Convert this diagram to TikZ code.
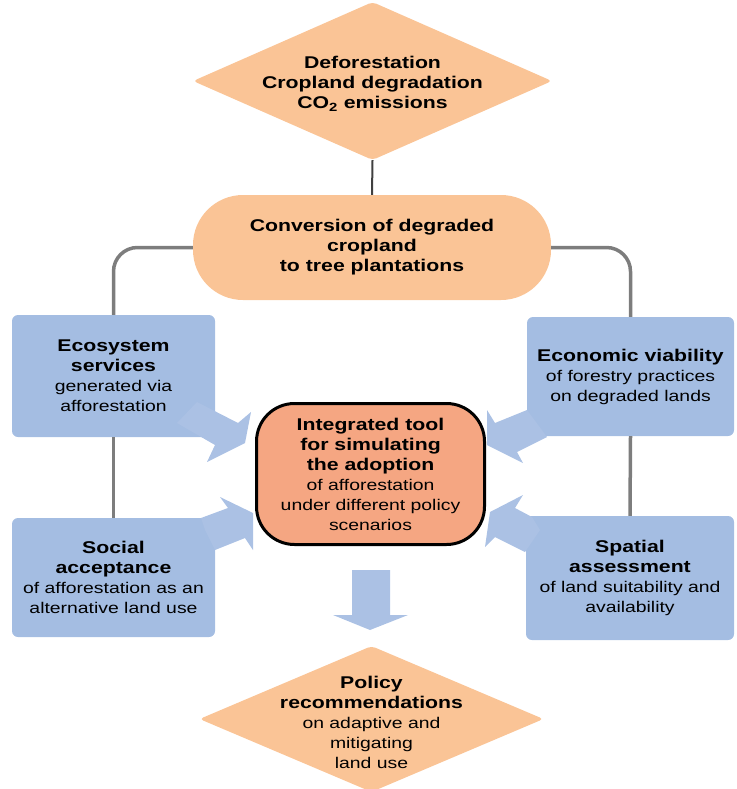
\documentclass[tikz,border=0pt]{standalone}
\usepackage{fontspec}
\setmainfont{Liberation Sans}[FakeStretch=1.25]
\usetikzlibrary{shapes.geometric}
\usepackage{color}

\definecolor{peach}{RGB}{250,196,150}
\definecolor{salmon}{RGB}{245,166,130}
\definecolor{paleblue}{RGB}{164,189,226}
\definecolor{arrowblue}{RGB}{171,193,228}
\definecolor{linegray}{RGB}{125,125,125}

% bold heading line inside a node
\newcommand{\hl}[1]{{\fontsize{17}{20}\selectfont\bfseries #1}}

\begin{document}
\begin{tikzpicture}[x=1pt,y=-1pt,
            font=\fontsize{15.5}{20}\selectfont,
            issue/.style={diamond, fill=peach, inner sep=0pt, rounded corners=4pt},
            pill/.style={rectangle, fill=peach, rounded corners=50pt,
                minimum width=358pt, minimum height=105pt, align=center},
            factor/.style={rectangle, fill=paleblue, rounded corners=6pt,
                minimum width=204pt, minimum height=121pt, align=center},
            tool/.style={rectangle, fill=salmon, draw=black, line width=3pt,
                rounded corners=38pt, minimum width=228pt, minimum height=141pt, align=center},
            txt/.style={align=center, inner sep=0pt},
            link/.style={draw=linegray, line width=3.5pt, rounded corners=24pt},
            flow/.style={fill=arrowblue},
        ]
        \useasboundingbox (0,0) rectangle (736,789);

        % problems and measure
        \node[issue, minimum width=359pt, minimum height=158pt] (causes) at (372.5,81) {};
        \node[txt] (causestext) at (372.5,84) {\hl{Deforestation}\\ \hl{Cropland degradation}\\ \hl{CO\textsubscript{2} emissions}};
        \node[pill] (conversion) at (372,247.5) {\hl{Conversion of degraded}\\ \hl{cropland}\\ \hl{to tree plantations}};

        % the four aspects
        \node[factor, minimum width=203pt, minimum height=122pt] (ecosystem) at (113.5,376) {\hl{Ecosystem}\\ \hl{services}\\ generated via\\ afforestation};
        \node[factor, minimum width=207pt, minimum height=119pt] (economic) at (630.5,376.5) {\hl{Economic viability}\\ of forestry practices\\ on degraded lands};
        \node[factor, minimum width=203pt, minimum height=119pt] (social) at (113.5,577.5) {\hl{Social}\\ \hl{acceptance}\\ of afforestation as an\\ alternative land use};
        \node[factor, minimum width=208pt, minimum height=124pt] (spatial) at (630,578) {\hl{Spatial}\\ \hl{assessment}\\ of land suitability and\\ availability};

        \node[tool] (tool) at (370.5,474) {\hl{Integrated tool}\\ \hl{for simulating}\\ \hl{the adoption}\\ of afforestation\\ under different policy\\ scenarios};

        % outcome
        \node[issue, minimum width=344pt, minimum height=146pt] (policy) at (371.5,719) {};
        \node[txt] (policytext) at (371.5,722) {\hl{Policy}\\ \hl{recommendations}\\ on adaptive and\\ mitigating\\ land use};

        \draw[draw=black!75, line width=2pt] (causes.south) -- (conversion.north);
        \draw[link] (conversion.west) -| (ecosystem.north);
        \draw[link] (conversion.east) -| (economic.north);
        \draw[link] (ecosystem.south) -- (social.north);
        \draw[link] (economic.south) -- (spatial.north);

        % block arrows into the tool
        \fill[flow] (197,402) -- (238,423) -- (251,412) -- (245,443) -- (207,462) -- (215,445) -- (177,423) -- cycle;
        \fill[flow] (487,410) -- (495,423) -- (527,410) -- (547,437) -- (517,452) -- (523,463) -- (487,445) -- cycle;
        \fill[flow] (201,518) -- (228,508) -- (220,497) -- (253,513) -- (253,550) -- (245,538) -- (215,550) -- (205,530) -- cycle;
        \fill[flow] (523,495) -- (515,508) -- (532,517) -- (540,530) -- (525,552) -- (495,537) -- (485,547) -- (490,512) -- cycle;
        %\fill[flow] (352,570) -- (390,570) -- (390,615) -- cycle;
        \fill[flow] (352,570) -- (390,570) -- (390,615) -- (408,615) -- (370,630) -- (333,615) -- (352,615) -- cycle;
    \end{tikzpicture}
\end{document}
